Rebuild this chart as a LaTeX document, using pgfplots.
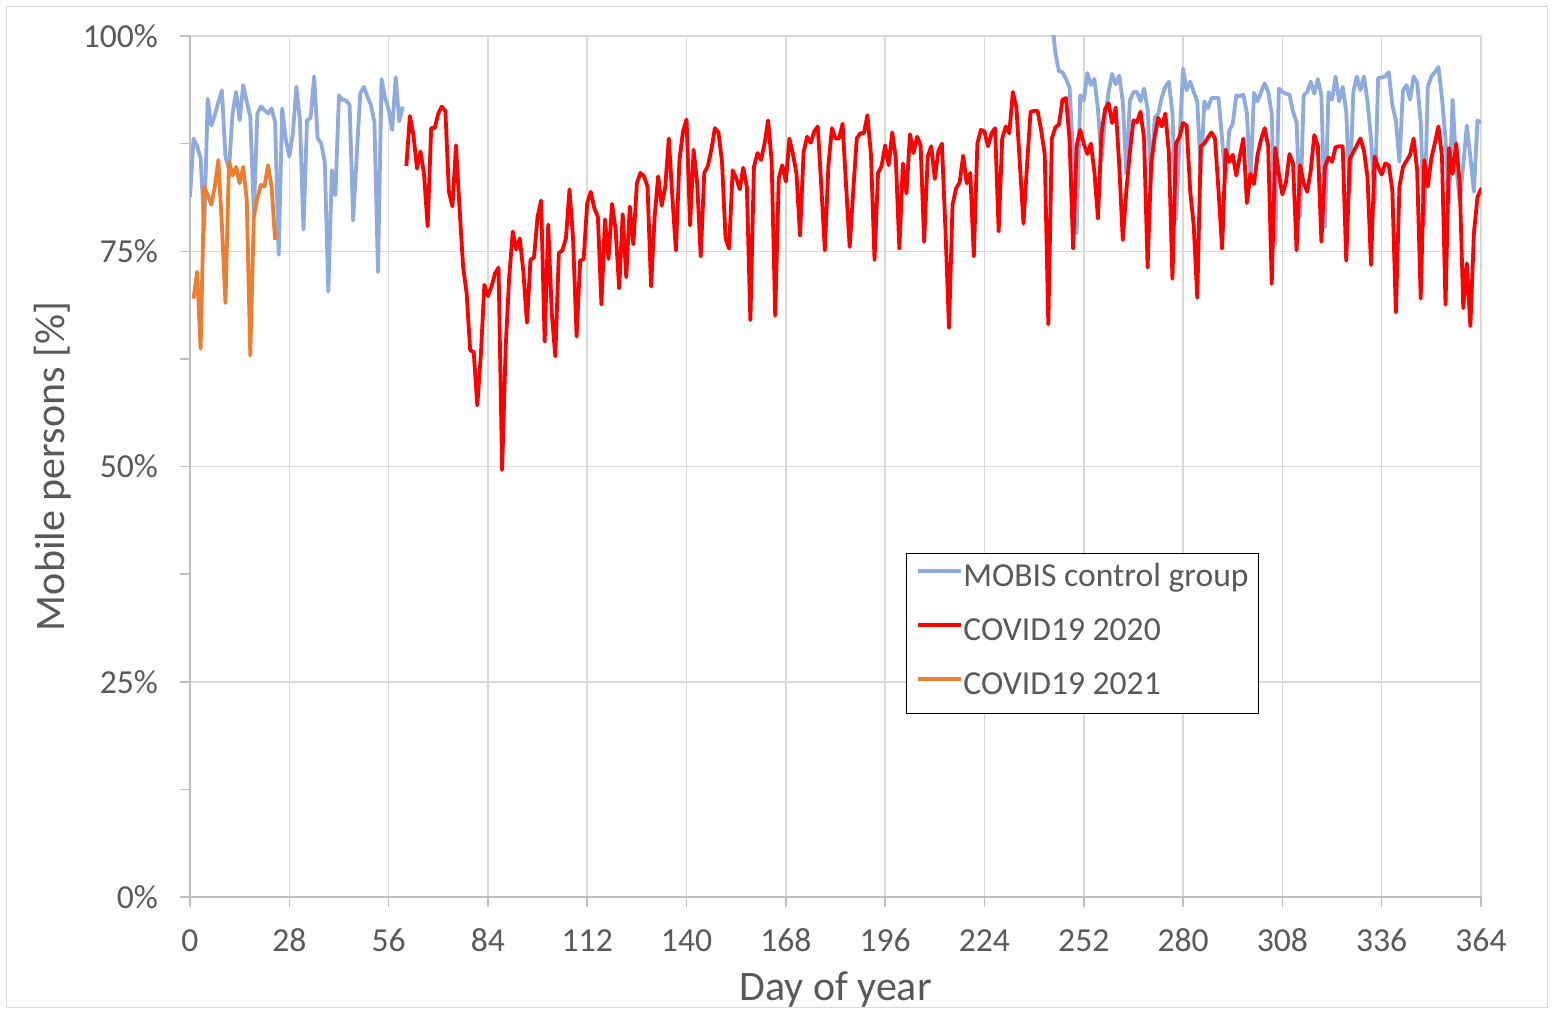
\documentclass[border=0pt]{standalone}
\usepackage{fontspec}
\setmainfont{Carlito}
\usepackage{pgfplots}
\usepackage{pgfplotstable}
\pgfplotsset{compat=1.18}
\definecolor{mobis}{HTML}{8FAADC}
\definecolor{covA}{HTML}{FF0000}
\definecolor{covB}{HTML}{ED7D31}
\definecolor{txt}{HTML}{595959}
\definecolor{gridc}{HTML}{D9D9D9}
\definecolor{axc}{HTML}{BFBFBF}

\pgfplotstableread{
day val
0 81.3
1 88.1
2 87.2
3 85.8
4 77.4
5 92.7
6 89.6
7 90.8
8 92.3
9 93.7
10 86.0
11 84.5
12 91.0
13 93.5
14 90.2
15 94.3
16 92.4
17 90.6
18 79.4
19 91.0
20 91.8
21 91.4
22 91.0
23 91.6
24 90.0
25 74.6
26 91.6
27 88.0
28 86.0
29 88.7
30 94.1
31 90.2
32 77.5
33 90.2
34 90.5
35 95.3
36 88.1
37 87.5
38 85.4
39 70.3
40 84.4
41 81.5
42 93.1
43 92.6
44 92.5
45 92.0
46 78.6
47 86.0
48 93.3
49 94.1
50 93.0
51 92.0
52 90.0
53 72.6
54 95.0
55 92.8
56 91.5
57 89.1
58 95.2
59 90.1
60 91.8
61 nan
243 102.0
244 98.0
245 95.9
246 95.8
247 95.0
248 94.0
249 86.0
250 77.1
251 93.1
252 92.5
253 95.7
254 94.3
255 95.0
256 91.5
257 85.5
258 90.6
259 93.5
260 95.6
261 94.4
262 95.4
263 92.4
264 84.0
265 92.5
266 93.5
267 93.5
268 92.4
269 93.9
270 91.5
271 83.0
272 90.5
273 91.0
274 92.9
275 94.1
276 94.7
277 91.0
278 78.7
279 88.0
280 96.2
281 93.7
282 94.7
283 93.5
284 92.4
285 84.0
286 92.4
287 91.6
288 92.8
289 92.8
290 92.8
291 88.0
292 83.0
293 89.0
294 89.8
295 93.1
296 93.0
297 93.2
298 91.0
299 83.0
300 93.4
301 92.4
302 93.5
303 94.5
304 93.5
305 91.0
306 75.8
307 93.9
308 93.5
309 93.3
310 93.2
311 91.2
312 90.0
313 79.0
314 93.1
315 93.5
316 94.7
317 93.3
318 95.0
319 93.1
320 77.8
321 93.5
322 92.6
323 95.3
324 92.4
325 94.1
326 91.2
327 81.7
328 93.5
329 95.3
330 93.7
331 95.3
332 92.4
333 88.0
334 80.6
335 95.1
336 95.2
337 95.3
338 95.8
339 92.0
340 90.2
341 85.4
342 93.7
343 94.3
344 92.6
345 95.3
346 94.6
347 90.0
348 77.9
349 94.1
350 95.3
351 95.8
352 96.4
353 92.8
354 88.0
355 80.6
356 92.6
357 85.0
358 80.8
359 85.0
360 89.6
361 86.0
362 81.9
363 90.2
364 89.9
}\mobisdata

\pgfplotstableread{
day val
61 84.9
62 90.7
63 88.5
64 84.6
65 86.6
66 83.9
67 77.9
68 89.3
69 89.3
70 91.0
71 91.8
72 91.3
73 81.9
74 80.2
75 87.3
76 80.0
77 73.2
78 70.1
79 63.5
80 63.3
81 57.1
82 62.9
83 71.1
84 69.8
85 70.9
86 72.4
87 73.1
88 49.6
89 63.8
90 72.0
91 77.3
92 75.2
93 76.5
94 72.6
95 66.7
96 74.0
97 74.3
98 79.0
99 80.9
100 64.5
101 78.1
102 67.8
103 62.8
104 74.8
105 75.1
106 76.5
107 82.2
108 76.5
109 65.1
110 73.9
111 74.1
112 80.6
113 81.9
114 80.0
115 79.0
116 68.8
117 78.7
118 74.1
119 80.5
120 77.5
121 70.7
122 79.3
123 72.0
124 80.2
125 75.8
126 82.9
127 84.1
128 83.7
129 82.5
130 70.9
131 79.0
132 83.7
133 80.3
134 82.5
135 88.1
136 81.3
137 75.1
138 85.6
139 88.9
140 90.3
141 78.0
142 86.8
143 82.9
144 74.4
145 84.1
146 84.9
147 86.8
148 89.3
149 88.8
150 85.4
151 76.5
152 75.3
153 84.4
154 83.5
155 82.2
156 84.7
157 82.5
158 67.0
159 84.8
160 86.4
161 85.6
162 87.5
163 90.2
164 85.4
165 67.5
166 83.5
167 85.0
168 83.1
169 88.1
170 86.3
171 84.0
172 76.8
173 86.5
174 88.3
175 87.6
176 88.9
177 89.5
178 82.5
179 75.1
180 85.0
181 89.3
182 88.1
183 88.1
184 89.8
185 82.5
186 75.5
187 82.0
188 88.1
189 88.7
190 88.7
191 90.8
192 86.2
193 74.0
194 84.1
195 84.9
196 87.3
197 85.0
198 88.8
199 85.8
200 75.3
201 85.2
202 81.7
203 88.6
204 86.4
205 88.3
206 87.3
207 76.1
208 86.0
209 87.2
210 83.4
211 86.6
212 87.5
213 77.5
214 66.1
215 80.4
216 82.3
217 83.0
218 86.1
219 82.9
220 84.1
221 74.4
222 87.5
223 89.1
224 88.9
225 87.2
226 88.7
227 89.3
228 77.3
229 88.1
230 89.5
231 88.7
232 93.5
233 91.7
234 85.0
235 78.2
236 85.0
237 91.2
238 91.3
239 91.3
240 89.0
241 86.2
242 66.5
243 88.1
244 89.4
245 89.7
246 92.6
247 92.8
248 87.9
249 75.3
250 87.3
251 89.1
252 87.5
253 86.3
254 87.5
255 84.2
256 78.8
257 88.7
258 91.5
259 92.2
260 89.9
261 91.7
262 85.0
263 76.3
264 82.0
265 86.5
266 90.2
267 90.0
268 91.2
269 88.1
270 73.1
271 85.2
272 88.3
273 90.5
274 89.5
275 91.0
276 86.4
277 71.8
278 87.5
279 88.3
280 89.9
281 89.6
282 82.0
283 78.0
284 69.6
285 87.2
286 87.5
287 88.2
288 88.8
289 88.1
290 82.0
291 75.3
292 86.8
293 85.4
294 86.2
295 83.8
296 86.0
297 88.1
298 80.6
299 84.0
300 82.8
301 86.2
302 88.0
303 89.3
304 87.2
305 71.2
306 87.0
307 84.0
308 81.6
309 83.0
310 86.3
311 85.2
312 75.1
313 85.0
314 82.9
315 81.9
316 84.4
317 88.5
318 87.2
319 76.1
320 84.8
321 85.9
322 85.4
323 87.1
324 87.2
325 87.2
326 73.9
327 85.7
328 86.5
329 87.3
330 88.1
331 86.7
332 83.6
333 73.4
334 86.0
335 84.8
336 83.9
337 85.2
338 85.0
339 82.1
340 67.9
341 82.5
342 84.8
343 85.5
344 86.2
345 88.1
346 84.4
347 69.5
348 85.6
349 82.5
350 85.8
351 87.6
352 89.5
353 86.0
354 68.8
355 87.0
356 84.0
357 87.5
358 82.9
359 68.4
360 73.6
361 66.3
362 77.1
363 81.3
364 82.2
365 82.5
}\covAdata

\pgfplotstableread{
day val
1 69.5
2 72.6
3 63.7
4 82.5
5 81.5
6 80.4
7 82.5
8 85.6
9 78.0
10 69.0
11 85.4
12 83.8
13 84.8
14 82.9
15 84.8
16 81.0
17 62.9
18 79.0
19 81.2
20 82.7
21 82.5
22 85.0
23 82.5
24 76.3
}\covBdata

\begin{document}
\begin{tikzpicture}
\path[use as bounding box] (0,0) rectangle (777pt,507pt);
\draw[gridc, line width=0.75pt] (3.25pt,3.25pt) rectangle (773.75pt,503.75pt);
\begin{axis}[
  scale only axis, width=645.5pt, height=430.5pt,
  at={(95pt,58.5pt)}, anchor=south west,
  xmin=0, xmax=364, ymin=0, ymax=100,
  xtick={0,28,...,364},
  ytick={0,25,50,75,100},
  yticklabels={0\%,25\%,50\%,75\%,100\%},
  minor ytick={12.5,37.5,62.5,87.5},
  grid=major,
  major grid style={gridc, line width=0.75pt},
  axis x line*=bottom, axis y line*=left,
  axis line style={axc, line width=0.75pt},
  tick style={axc, line width=0.75pt},
  tick align=outside, major tick length=5pt, minor tick length=5pt,
  ticklabel style={font=\fontsize{16.8}{19}\selectfont, text=txt},
  xticklabel style={yshift=-8pt, text height=10.8pt, text depth=0pt},
  yticklabel style={xshift=-7.5pt},
  /pgf/number format/assume math mode=true,
  xlabel={Day of year}, ylabel={Mobile persons [\%]},
  label style={font=\fontsize{21}{25}\selectfont, text=txt},
  xlabel style={yshift=-3pt},
  ylabel style={yshift=-1pt},
  unbounded coords=jump,
  legend cell align=left,
  legend style={at={(0.5546,0.3995)}, anchor=north west,
    draw=black, line width=0.6pt, fill=white,
    font=\fontsize{16.8}{19}\selectfont, text=txt,
    inner xsep=5pt, inner ysep=6.25pt, row sep=13.5pt,
    nodes={inner sep=0pt, text height=10pt, text depth=3.5pt}},
  legend image code/.code={\draw[#1, line cap=butt] (0pt,4.5pt) -- (21.5pt,4.5pt);},
]
\addplot[mobis, line width=1.9pt, line join=round] table[x=day, y=val] {\mobisdata};
\addlegendentry{MOBIS control group}
\addplot[covA, line width=1.9pt, line join=round] table[x=day, y=val] {\covAdata};
\addlegendentry{COVID19 2020}
\addplot[covB, line width=1.9pt, line join=round] table[x=day, y=val] {\covBdata};
\addlegendentry{COVID19 2021}
\end{axis}
\end{tikzpicture}
\end{document}
